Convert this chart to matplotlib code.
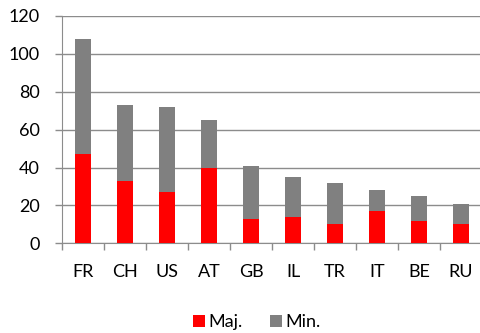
import matplotlib
matplotlib.use("Agg")
import matplotlib.pyplot as plt
import numpy as np

countries = ["FR", "CH", "US", "AT", "GB", "IL", "TR", "IT", "BE", "RU"]
majority = [47, 33, 27, 40, 13, 14, 10, 17, 12, 10]
minority = [61, 40, 45, 25, 28, 21, 22, 11, 13, 11]
y_ticks = [0, 20, 40, 60, 80, 100, 120]

plt.rcParams["font.family"] = ["Lato", "DejaVu Sans"]

fig = plt.figure(figsize=(4.81, 3.33), dpi=100)
ax = fig.add_axes([62 / 481, (333 - 243.3) / 333, 420 / 481, (243.3 - 16) / 333])

x = np.arange(len(countries))
w = 0.4
ax.bar(x, majority, width=w, color="#FF0000", label="Maj.", zorder=3)
ax.bar(x, minority, width=w, bottom=majority, color="#808080", label="Min.", zorder=3)

grid_col = "#8C8C8C"
ax.set_xlim(-0.5, len(countries) - 0.5)
ax.set_ylim(0, 120)
ax.set_yticks(y_ticks)
ax.set_yticklabels([str(v) for v in y_ticks])
ax.yaxis.grid(True, color=grid_col, linewidth=1.0, zorder=0)

# category boundaries carry the tick marks, labels sit in the middle
ax.set_xticks(np.arange(len(countries) + 1) - 0.5)
ax.set_xticklabels([])
ax.set_xticks(x, minor=True)
ax.set_xticklabels(countries, minor=True)
ax.tick_params(axis="x", which="major", length=5, color=grid_col, width=1)
ax.tick_params(axis="x", which="minor", length=0, pad=15, labelsize=13)
ax.tick_params(axis="y", length=5, color=grid_col, width=1, pad=11, labelsize=13)

for side in ["top", "right"]:
    ax.spines[side].set_visible(False)
ax.spines["left"].set_color(grid_col)
ax.spines["bottom"].set_color(grid_col)

fig.legend(loc="center", bbox_to_anchor=(257 / 481, 1 - 322 / 333), ncol=2,
           frameon=False, fontsize=13, handlelength=0.65, handleheight=0.65,
           handletextpad=0.2, columnspacing=1.5)

fig.savefig("out.png", dpi=100)
